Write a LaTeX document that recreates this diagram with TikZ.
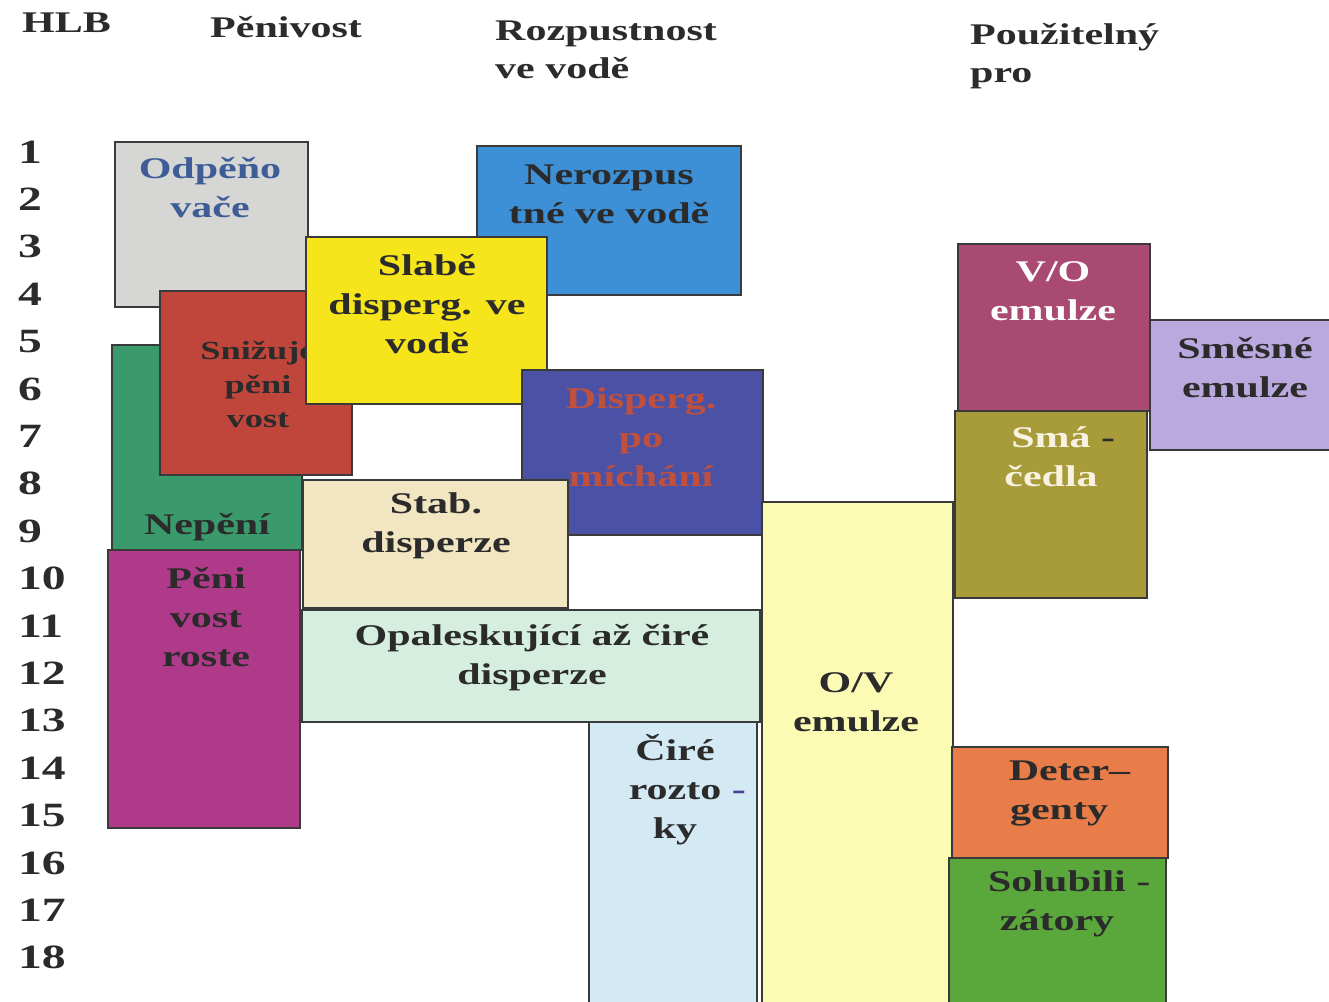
\documentclass[tikz,border=0pt]{standalone}
\usepackage{fontspec}
\setmainfont{Liberation Serif}[FakeStretch=1.4]
\definecolor{edge}{HTML}{3A3A3A}
\definecolor{ink}{HTML}{2B2B2B}
\definecolor{cgray}{HTML}{D6D6D4}
\definecolor{cblue}{HTML}{3D8FD6}
\definecolor{cyellow}{HTML}{F7E51C}
\definecolor{cred}{HTML}{C0463C}
\definecolor{cgreen}{HTML}{3A9A6C}
\definecolor{cmag}{HTML}{B03A8A}
\definecolor{cindigo}{HTML}{4B52A6}
\definecolor{cbeige}{HTML}{F2E6C2}
\definecolor{cmint}{HTML}{D6EEDF}
\definecolor{clblue}{HTML}{D3E9F4}
\definecolor{covy}{HTML}{FCFBB4}
\definecolor{cmaroon}{HTML}{A84A72}
\definecolor{clav}{HTML}{B9A9DF}
\definecolor{colive}{HTML}{A89B3A}
\definecolor{corange}{HTML}{E97D4A}
\definecolor{cgreen2}{HTML}{5AA83C}
\definecolor{tslate}{HTML}{3D5C98}
\definecolor{tbrick}{HTML}{C0503E}
\definecolor{tcream}{HTML}{F8F2E0}
\definecolor{tdash}{HTML}{4A3C9A}
\begin{document}
\begin{tikzpicture}[x=1pt,y=-1pt,
  box/.style={draw=edge, line width=1.2pt, anchor=north west, inner sep=0pt, outer sep=0pt},
  txt/.style={font=\bfseries\fontsize{30}{39}\selectfont, align=center, text=ink, inner sep=0pt},
  smalltxt/.style={txt, font=\bfseries\fontsize{26}{34}\selectfont},
  head/.style={font=\bfseries\fontsize{30}{38}\selectfont, align=left, text=ink, inner sep=0pt, anchor=west},
  num/.style={font=\bfseries\fontsize{34}{40}\selectfont, text=ink, inner sep=0pt, anchor=west}]
\useasboundingbox[fill=white] (0,0) rectangle (1329,1001);

% headers
\node[head] (hHLB) at (22,23) {HLB};
\node[head] (hPen) at (210,27) {Pěnivost};
\node[head] (hRoz) at (495,50) {Rozpustnost\\ve vodě};
\node[head] (hPou) at (970,56) {Použitelný\\pro};

% HLB numbers
\foreach \n in {1,...,18} {
  \node[num] (n\n) at (18,{152+(\n-1)*47.4}) {\n};
}

% boxes (drawing order matters)
\node[box, fill=cgray, minimum width=193pt, minimum height=165pt] (bOdp) at (115,142) {};
\node[txt, text=tslate] (tOdp) at (210,188) {Odpěňo\\vače};

\node[box, fill=cblue, minimum width=264pt, minimum height=149pt] (bNer) at (477,146) {};
\node[txt] (tNer) at (609,194) {Nerozpus\\tné ve vodě};

\node[box, fill=cgreen, minimum width=190pt, minimum height=205pt] (bNep) at (112,345) {};
\node[txt] (tNep) at (207,527) {Nepění};

\node[box, fill=cred, minimum width=192pt, minimum height=184pt] (bSni) at (160,291) {};
\node[smalltxt] (tSni) at (258,384) {Snižuje\\pěni\\vost};

\node[box, fill=cyellow, minimum width=241pt, minimum height=167pt] (bSla) at (306,237) {};
\node[txt] (tSla) at (427,304) {Slabě\\disperg. ve\\vodě};

\node[box, fill=cindigo, minimum width=241pt, minimum height=165pt] (bDis) at (522,370) {};
\node[txt, text=tbrick] (tDis) at (641,437) {Disperg.\\po\\míchání};

\node[box, fill=cbeige, minimum width=265pt, minimum height=128pt] (bSta) at (303,480) {};
\node[txt] (tSta) at (436,526) {Stab.\\disperze};

\node[box, fill=cmag, minimum width=192pt, minimum height=278pt] (bPen) at (108,550) {};
\node[txt] (tPen) at (206,617) {Pěni\\vost\\roste};

\node[box, fill=cmint, minimum width=458pt, minimum height=112pt] (bOpa) at (302,610) {};
\node[txt] (tOpa) at (532,658) {Opaleskující až čiré\\disperze};

\node[box, fill=clblue, minimum width=168pt, minimum height=290pt] (bCir) at (589,722) {};
\node[txt] (tCir) at (675,790) {Čiré\\rozto\rlap{ \color{tdash}-}\\ky};

\node[box, fill=covy, minimum width=191pt, minimum height=510pt] (bOV) at (762,502) {};
\node[txt] (tOV) at (856,702) {O/V\\emulze};

\node[box, fill=cmaroon, minimum width=192pt, minimum height=167pt] (bVO) at (958,244) {};
\node[txt, text=white] (tVO) at (1053,291) {V/O\\emulze};

\node[box, fill=clav, minimum width=185pt, minimum height=130pt] (bSme) at (1150,320) {};
\node[txt] (tSme) at (1245,368) {Směsné\\emulze};

\node[box, fill=colive, minimum width=192pt, minimum height=187pt] (bSma) at (955,411) {};
\node[txt, text=tcream] (tSma) at (1051,457) {Smá\rlap{ \color{ink}-}\\čedla};

\node[box, fill=corange, minimum width=216pt, minimum height=111pt] (bDet) at (952,747) {};
\node[txt] (tDet) at (1059,793) {Deter\rlap{–}\\genty};

\node[box, fill=cgreen2, minimum width=217pt, minimum height=150pt] (bSol) at (949,858) {};
\node[txt] (tSol) at (1057,904) {Solubili\rlap{ -}\\zátory};
\end{tikzpicture}
\end{document}
